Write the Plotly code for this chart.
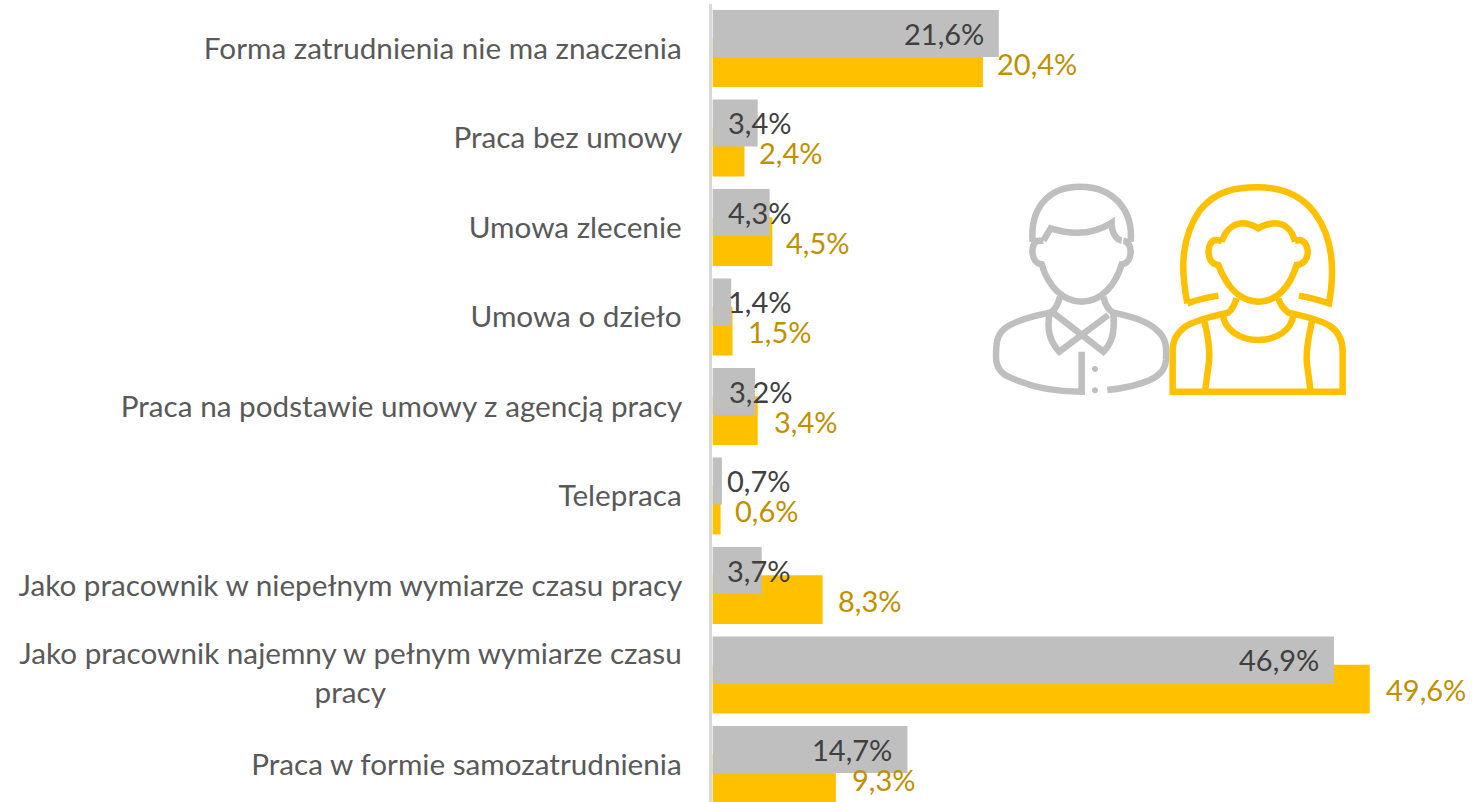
import re
import plotly.graph_objects as go

# --- data -------------------------------------------------------------
categories = [
    "Forma zatrudnienia nie ma znaczenia",
    "Praca bez umowy",
    "Umowa zlecenie",
    "Umowa o dzieło",
    "Praca na podstawie umowy z agencją pracy",
    "Telepraca",
    "Jako pracownik w niepełnym wymiarze czasu pracy",
    "Jako pracownik najemny w pełnym wymiarze czasu|pracy",
    "Praca w formie samozatrudnienia",
]
men = [21.6, 3.4, 4.3, 1.4, 3.2, 0.7, 3.7, 46.9, 14.7]
women = [20.4, 2.4, 4.5, 1.5, 3.4, 0.6, 8.3, 49.6, 9.3]

# --- label placement (pixels relative to bar end) ---------------------
men_dx = [-55, 2, -10, 28, 5, 37, -3, -55, -55]
women_dx = [54, 46, 45.5, 47, 48, 46, 47, 56, 48]

W, H = 1481, 802
L, T = 712, 4
GRAY, YELLOW = "#BFBFBF", "#FFC000"
FONT = "Lato"
FS_VAL = 29
FS_CAT = 29.7

ypos = list(range(len(categories)))


def pct(v):
    return f"{v:.1f}%".replace(".", ",")


fig = go.Figure()
fig.add_bar(y=ypos, x=women, orientation="h", marker=dict(color=YELLOW, line_width=0),
            offset=-0.115, width=0.545, name="Kobiety")
fig.add_bar(y=ypos, x=men, orientation="h", marker=dict(color=GRAY, line_width=0),
            offset=-0.43, width=0.525, name="Mężczyźni")

annotations = []
for i in ypos:
    annotations.append(dict(x=men[i], y=i, xref="x", yref="y", text=pct(men[i]), showarrow=False,
                            xanchor="center", yanchor="middle", xshift=men_dx[i], yshift=15,
                            font=dict(family=FONT, size=FS_VAL, color="#404040")))
    annotations.append(dict(x=women[i], y=i, xref="x", yref="y", text=pct(women[i]), showarrow=False,
                            xanchor="center", yanchor="middle", xshift=women_dx[i], yshift=-15,
                            font=dict(family=FONT, size=FS_VAL, color="#BF9000")))

# tick labels; a two-line category gets one tick per line
tickvals, ticktext = [], []
for i, c in enumerate(categories):
    parts = c.split("|")
    if len(parts) == 1:
        tickvals.append(i)
        ticktext.append(c + "\u00a0")
    else:
        tickvals += [i - 0.24, i + 0.195]
        ticktext += [parts[0] + "\u00a0", parts[1] + "\u00a0" * 40]


# --- icons: outline paths, written in a local 3x grid ------------------
def to_paper(path):
    def conv(m):
        x = 980 + float(m.group(1)) / 3
        y = 170 + float(m.group(2)) / 3
        return f"{(x - L) / (W - L):.5f},{1 - (y - T) / (H - T):.5f}"
    return re.sub(r"(-?[\d.]+),(-?[\d.]+)", conv, path)


man_paths = [
    "M158,215 C150,120 200,50 300,50 C400,50 460,120 452,215",
    "M190,212 L212,175 C260,190 330,200 395,158 C395,190 410,210 425,212",
    "M190,212 L175,212 C150,215 150,280 185,283 C205,350 250,395 305,395 C360,395 405,350 425,283 C460,280 460,215 430,212",
    "M240,380 C235,400 225,420 210,428 C150,440 100,455 75,475 C50,495 48,520 48,560 C48,590 60,610 90,622 C150,650 220,665 305,665 L305,545",
    "M370,380 C375,400 385,420 400,428 C460,440 510,460 530,480 C560,505 560,530 558,570 C555,600 540,615 510,630 C470,648 430,655 382,660",
    "M222,430 L370,545 C395,520 405,490 400,428",
    "M385,435 L238,545 C205,510 200,470 210,428",
]
woman_paths = [
    "M622,400 C600,290 605,200 660,120 C710,60 770,52 835,52 C900,52 960,70 1005,130 C1060,205 1065,300 1047,400 C1015,390 985,382 957,377",
    "M622,400 C650,390 685,382 715,377",
    "M725,215 C740,170 770,160 790,160 C810,160 825,170 835,175 C850,165 865,160 885,160 C910,160 935,175 945,215",
    "M725,212 L705,210 C680,215 675,280 715,285 C740,350 780,395 835,395 C890,395 930,350 950,285 C995,280 990,215 960,210 L945,212",
    "M770,385 C765,400 755,420 745,428 C690,440 640,455 615,470 C590,490 578,510 578,545 L578,665 L1088,665 L1088,545 C1088,510 1075,485 1050,468 C1030,455 980,440 925,428 C915,420 900,405 895,385",
    "M728,435 C735,480 780,510 835,510 C890,510 935,480 940,435",
    "M672,450 C685,500 692,550 685,590 L675,665",
    "M997,450 C985,500 975,550 982,590 L992,665",
]
dots = ["M336,597 C336,585 354,585 354,597 C354,609 336,609 336,597 Z",
        "M336,661 C336,649 354,649 354,661 C354,673 336,673 336,661 Z"]

shapes = []
for p in man_paths:
    shapes.append(dict(type="path", xref="paper", yref="paper", path=to_paper(p),
                       line=dict(color=GRAY, width=6.5), layer="above"))
for p in dots:
    shapes.append(dict(type="path", xref="paper", yref="paper", path=to_paper(p),
                       line_width=0, fillcolor=GRAY, layer="above"))
for p in woman_paths:
    shapes.append(dict(type="path", xref="paper", yref="paper", path=to_paper(p),
                       line=dict(color=YELLOW, width=6.5), layer="above"))

fig.update_layout(
    width=W, height=H, margin=dict(l=L, r=0, t=T, b=0),
    paper_bgcolor="white", plot_bgcolor="white",
    barmode="overlay", showlegend=False,
    xaxis=dict(range=[-0.05, 58.0], visible=False, fixedrange=True),
    yaxis=dict(range=[8.42, -0.497], tickmode="array", tickvals=tickvals, ticktext=ticktext,
               ticks="", showgrid=False, zeroline=False, showline=True, linecolor="#D9D9D9",
               linewidth=2.5, ticklabelstandoff=14,
               tickfont=dict(family=FONT, size=FS_CAT, color="#595959")),
    annotations=annotations, shapes=shapes,
    hovermode=False,
)
fig.write_html("out.html", post_script="document.body.style.margin='0';",
               config={"displayModeBar": False})
